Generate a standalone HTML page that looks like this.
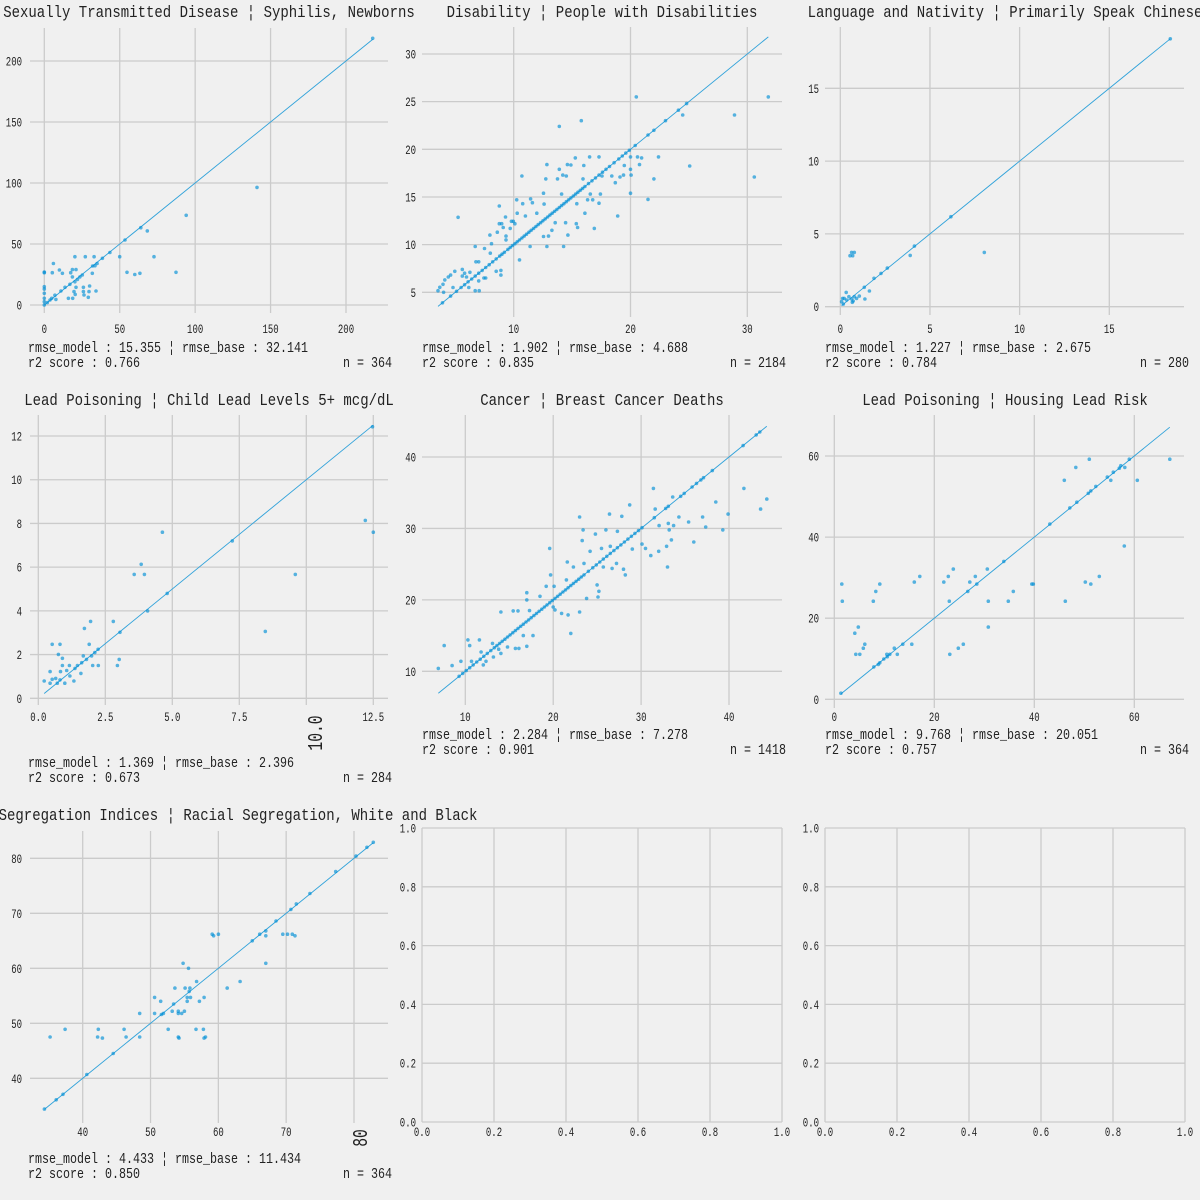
<!DOCTYPE html>
<html><head><meta charset="utf-8"><style>
html,body{margin:0;padding:0;background:#f0f0f0;}
svg{display:block;}
text{font-family:"Liberation Mono","DejaVu Sans Mono",monospace;fill:#222;}
</style></head><body>
<svg id="fig" width="1200" height="1200" viewBox="0 0 1200 1200" xmlns="http://www.w3.org/2000/svg">
<rect width="1200" height="1200" fill="#f0f0f0"/>
</svg>
<script>
// ---------- data ----------
const p1Points = [[0,26.5],[0,15],[0,9.6],[0,5.5],[0,2.7],[0,0],[0,27],[0,13],[6,34],[5.3,26.5],[7,8],[4.9,5.5],[7.7,4.6],[3.8,4.1],[2,2],[10,28.7],[12,26],[11,11.5],[13.7,14.5],[16,5.5],[17,17],[17.5,26.5],[18.6,29],[18.6,23],[18.8,5.5],[19.7,11],[20.3,19],[20.3,39.6],[21,29],[21,14.5],[20.5,8.7],[22,21],[23.6,23],[25.2,24.6],[25.9,14.5],[25.9,11],[26.3,8.2],[27.2,39.6],[30,15.6],[29.6,11],[29.2,6.3],[31.8,26],[32,32],[33,39.6],[33.6,32.2],[34.3,11.5],[35,34],[38.5,38.3],[43.5,43],[50,39.6],[53.5,53.3],[54.8,26.8],[60,25],[63.4,26],[64,63.4],[68.3,60.7],[72.7,39.6],[87.3,26.8],[94.1,73.5],[141,96.4],[217.7,218.6]];
const p2Points = [[5.24,12.87],[3.52,5.17],[3.67,5.52],[3.95,5.84],[4.1,6.3],[4.4,6.6],[4.6,6.8],[4.96,7.2],[4.8,5.5],[4,5],[5.6,6.7],[5.6,7.4],[5.8,7],[5.96,6.6],[6.16,5.5],[6.25,7.1],[6.7,9.8],[6.76,8.2],[7.0,8.2],[6.7,5.17],[7.05,5.17],[7,6.2],[7.5,9.6],[7.45,6.5],[7.6,6.5],[7.96,11],[8.1,10.1],[8.0,9.1],[8.77,14.05],[8.77,12.2],[8.97,12.2],[8.6,11.3],[9.3,12.9],[9.1,11.8],[9.34,10.5],[9.34,10.9],[8.5,7.2],[8.9,7.3],[8.9,6.8],[9.7,11.7],[9.8,12.45],[9.97,12.45],[10.1,12.2],[10.26,14.7],[10.3,13.3],[10.5,8.4],[10.7,17.2],[10.77,14.3],[11,13],[11.4,9.8],[11.45,14.8],[11.6,14.4],[11.98,13.3],[12.55,15.4],[12.6,14.25],[12.75,16.9],[12.84,18.4],[12.84,9.8],[12.55,10.85],[12.98,10.9],[13.27,11.5],[13.55,12.3],[13.75,16.9],[13.9,17.9],[13.9,22.4],[14.1,15.3],[14.2,17.3],[14.27,9.8],[14.44,12.3],[14.5,17.2],[14.6,18.4],[14.64,11],[14.9,18.35],[15.27,19.1],[15.36,12.2],[15.4,14.3],[15.47,11.8],[15.79,23],[15.93,16.9],[16,18.3],[16.1,13.3],[16.33,14.7],[16.5,19.2],[16.56,15.3],[16.76,14.7],[16.9,11.7],[17.3,19.2],[17.3,14.35],[17.42,15.3],[17.56,17.2],[18.4,17.2],[18.7,16.5],[18.9,13],[19.1,17.1],[19.47,18.3],[19.4,17.3],[20,17.9],[20.05,17.3],[20,19.2],[20,15.4],[20.5,25.5],[20.6,19.2],[20.77,18.4],[20.95,19.1],[21.5,14.75],[22,16.9],[22.4,19.2],[24.47,23.6],[25.07,18.25],[28.9,23.6],[30.6,17.1],[31.8,25.5],
[3.9,3.9],[4.6,4.6],[5.1,5.1],[5.5,5.5],[5.8,5.8],[6.1,6.1],[6.4,6.4],[6.7,6.7],[7.0,7.0],[7.3,7.3],[7.6,7.6],[7.9,7.9],[8.2,8.2],[8.5,8.5],[8.8,8.8],[9.0,9.0],[9.2,9.2],[9.5,9.5],[9.7,9.7],[9.9,9.9],[10.1,10.1],[10.3,10.3],[10.5,10.5],[10.7,10.7],[10.9,10.9],[11.1,11.1],[11.3,11.3],[11.5,11.5],[11.7,11.7],[11.9,11.9],[12.1,12.1],[12.3,12.3],[12.5,12.5],[12.7,12.7],[12.9,12.9],[13.1,13.1],[13.3,13.3],[13.5,13.5],[13.7,13.7],[13.9,13.9],[14.1,14.1],[14.3,14.3],[14.5,14.5],[14.7,14.7],[14.9,14.9],[15.1,15.1],[15.3,15.3],[15.5,15.5],[15.7,15.7],[15.9,15.9],[16.1,16.1],[16.4,16.4],[16.7,16.7],[17.0,17.0],[17.3,17.3],[17.6,17.6],[17.9,17.9],[18.2,18.2],[18.6,18.6],[19.0,19.0],[19.3,19.3],[19.6,19.6],[19.9,19.9],[20.4,20.4],[21.5,21.5],[22.0,22.0],[23.0,23.0],[24.1,24.1],[24.8,24.8]];
const p3Points = [[18.4,18.4],[6.17,6.18],[4.13,4.16],[3.9,3.52],[2.62,2.65],[2.27,2.29],[1.88,1.95],[1.34,1.33],[1.37,0.53],[1.62,1.08],[8.03,3.73],[0.54,3.5],[0.63,3.73],[0.78,3.73],[0.69,3.5],[0.33,0.98],[0.07,0.34],[0.17,0.18],[0.22,0.57],[0.35,0.46],[0.48,0.69],[0.63,0.53],[0.67,0.3],[0.78,0.69],[0.91,0.57],[1.06,0.73],[0.13,0.57],[0.72,0.39]];
const p4Points = [[12.47,12.42],[12.2,8.14],[12.5,7.6],[9.59,5.67],[8.47,3.06],[7.24,7.2],[4.63,7.6],[4.81,4.8],[4.08,4.0],[3.84,6.13],[3.58,5.67],[3.96,5.67],[3.05,3.02],[3.02,1.78],[2.95,1.5],[2.8,3.52],[1.95,3.52],[1.72,3.2],[1.9,2.47],[2.23,2.24],[2.11,2.09],[1.99,1.94],[2.03,1.5],[2.24,1.5],[1.68,1.94],[1.8,1.78],[1.62,1.63],[1.59,1.14],[1.46,1.5],[1.37,1.37],[1.33,0.79],[1.16,1.5],[1.18,1.02],[1.06,1.27],[0.99,0.69],[0.9,1.5],[0.9,1.83],[0.81,2.47],[0.75,2.01],[0.83,1.22],[0.81,0.84],[0.71,0.69],[0.65,0.91],[0.52,2.47],[0.52,0.87],[0.44,1.22],[0.44,0.69],[0.22,0.79]];
const p5Points = [[6.93,10.4],[7.6,13.6],[8.5,10.8],[9.5,11.4],[10.3,14.4],[10.5,13.6],[10.7,11.4],[11.6,14.4],[11.8,12.7],[12.05,10.9],[12.35,11.4],[13.1,13.9],[13.2,12],[13.8,13.1],[14.05,18.3],[14.05,12.5],[14.8,13.4],[15.45,18.45],[15.7,13.2],[16,18.45],[16.1,13.2],[16.6,15],[17,21],[17,20],[17,13.5],[17.3,18.5],[17.7,15],[18.5,20.5],[19.2,21.9],[19.6,27.2],[19.7,23.5],[20,19],[20.2,18.6],[20.1,21.9],[20.95,18.1],[21.5,22.8],[21.6,25.3],[21.7,17.9],[22,15.3],[22.3,24.6],[23,31.6],[23,18.3],[23.3,28.3],[23.4,29.8],[23.5,25.1],[23.8,20.2],[24.2,26.8],[24.8,29.2],[25,22.1],[25.2,21.2],[25.1,20.4],[25.5,27.2],[25.7,24.6],[26,29.8],[26.4,32],[26.5,27.5],[26.7,24.4],[27.2,25.1],[27.3,29.6],[27.8,31.7],[28,24.3],[28.2,23.5],[28.7,33.3],[29,27.1],[30.1,27.8],[30.5,27.2],[31.1,26.2],[31.4,35.6],[31.6,32.7],[32.05,30.4],[32,26.8],[32.9,27.5],[33,24.6],[33.1,30.7],[33.2,29.8],[33.45,28.4],[33.6,34.4],[33.7,30.4],[34.3,31.6],[35.4,30.9],[36,28.1],[37,31.6],[37.35,30.2],[38.5,33.7],[39.3,29.8],[39.9,32],[41.7,35.6],[43.6,32.7],[44.3,34.1],
[9.3,9.3],[9.7,9.7],[10.1,10.1],[10.5,10.5],[10.9,10.9],[11.3,11.3],[11.7,11.7],[12.1,12.1],[12.5,12.5],[12.9,12.9],[13.3,13.3],[13.6,13.6],[13.9,13.9],[14.2,14.2],[14.5,14.5],[14.8,14.8],[15.1,15.1],[15.4,15.4],[15.7,15.7],[16.0,16.0],[16.3,16.3],[16.6,16.6],[16.9,16.9],[17.2,17.2],[17.5,17.5],[17.8,17.8],[18.1,18.1],[18.4,18.4],[18.7,18.7],[19.0,19.0],[19.3,19.3],[19.6,19.6],[19.9,19.9],[20.2,20.2],[20.5,20.5],[20.8,20.8],[21.1,21.1],[21.4,21.4],[21.7,21.7],[22.0,22.0],[22.3,22.3],[22.6,22.6],[22.9,22.9],[23.2,23.2],[23.5,23.5],[24.0,24.0],[24.5,24.5],[24.9,24.9],[25.3,25.3],[25.7,25.7],[26.1,26.1],[26.5,26.5],[26.9,26.9],[27.3,27.3],[27.7,27.7],[28.1,28.1],[28.5,28.5],[28.9,28.9],[29.3,29.3],[29.7,29.7],[30.1,30.1],[31.5,31.5],[32.8,32.8],[33.1,33.1],[34.5,34.5],[34.9,34.9],[35.8,35.8],[36.3,36.3],[36.8,36.8],[37.1,37.1],[38.1,38.1],[41.6,41.6],[43.1,43.1],[43.5,43.5]];
const p6Points = [[67.1,59.2],[60.6,54],[59,59.2],[58.1,57.2],[57.3,57.6],[57,57],[55.8,56],[55.3,54],[54.6,54.8],[52.3,52.5],[51.3,51.4],[50.8,50.8],[51,59.2],[48.3,57.2],[46,54],[48.5,48.6],[47.1,47.2],[43.1,43.2],[58,37.8],[53,30.3],[50.2,28.9],[51.3,28.4],[46.2,24.2],[39.8,28.4],[39.5,28.4],[35.8,26.6],[34.8,24.2],[33.9,34],[30.6,32.1],[30.8,24.2],[30.8,17.8],[28.5,28.4],[28.2,30.3],[27.1,28.9],[26.7,26.6],[23.8,32.1],[22.8,30.3],[23,24.2],[23.1,11.1],[21.9,28.9],[24.8,12.6],[25.8,13.6],[17.1,30.3],[16,28.9],[15.5,13.6],[13.7,13.6],[12.6,11.1],[12,12.6],[11.1,11.1],[10.5,11.1],[10.6,10.5],[9.9,9.95],[9.1,9],[8.8,8.6],[7.9,8],[9.1,28.4],[8.3,26.6],[7.8,24.2],[6.1,13.6],[5.8,12.6],[5.1,11.1],[4.3,11.1],[4.8,17.8],[4.1,16.3],[1.5,28.4],[1.6,24.2],[1.33,1.5]];
const p7Points = [[82.85,82.9],[81.9,82],[80.3,80.4],[77.3,77.6],[73.5,73.6],[71.5,71.7],[70.7,70.7],[68.5,68.6],[66.1,66.2],[67,66.8],[67,65.9],[67,60.9],[65,65],[69.5,66.2],[70.2,66.2],[70.9,66.2],[71.3,65.9],[60,66.2],[59.1,66.2],[59.3,65.9],[63.2,57.6],[61.3,56.4],[57.9,54.7],[57.2,54],[56.8,57.6],[55.8,56.4],[55.7,55.8],[55.9,54.7],[55.4,54.7],[55.4,54],[55.1,56.4],[55.6,60],[54.8,60.9],[55,52.2],[54.6,51.8],[54.1,52.2],[54.1,51.8],[53.6,56.4],[53.4,53.5],[53.2,52.2],[51.9,51.8],[51.5,54],[51.6,51.6],[50.6,54.7],[50.6,51.8],[52.6,48.9],[54.1,47.5],[54.2,47.3],[56.7,48.9],[57.8,48.9],[57.9,47.3],[58.1,47.5],[48.4,51.8],[48.4,47.5],[46.4,47.5],[46.1,48.9],[44.5,44.5],[42.9,47.3],[42.2,47.5],[42.3,48.9],[40.6,40.7],[37.4,48.9],[35.2,47.5],[37.1,37.1],[36.1,36.1],[34.35,34.4]];

const p1XTicks=[0,50,100,150,200], p1YTicks=[0,50,100,150,200];
const p2XTicks=[10,20,30], p2YTicks=[5,10,15,20,25,30];
const p3XTicks=[0,5,10,15], p3YTicks=[0,5,10,15];
const p4XTicks=[0,2.5,5,7.5,10,12.5], p4YTicks=[0,2,4,6,8,10,12];
const p5XTicks=[10,20,30,40], p5YTicks=[10,20,30,40];
const p6XTicks=[0,20,40,60], p6YTicks=[0,20,40,60];
const p7XTicks=[40,50,60,70,80], p7YTicks=[40,50,60,70,80];
const unitTicks=[0,0.2,0.4,0.6,0.8,1.0];

const titles=["Sexually Transmitted Disease ¦ Syphilis, Newborns","Disability ¦ People with Disabilities","Language and Nativity ¦ Primarily Speak Chinese","Lead Poisoning ¦ Child Lead Levels 5+ mcg/dL","Cancer ¦ Breast Cancer Deaths","Lead Poisoning ¦ Housing Lead Risk","Segregation Indices ¦ Racial Segregation, White and Black"];
const rmseModel=["15.355","1.902","1.227","1.369","2.284","9.768","4.433"];
const rmseBase=["32.141","4.688","2.675","2.396","7.278","20.051","11.434"];
const r2Scores=["0.766","0.835","0.784","0.673","0.901","0.757","0.850"];
const nCounts=[364,2184,280,284,1418,364,364];

// ---------- layout ----------
const NS="http://www.w3.org/2000/svg";
const svg=document.getElementById('fig');
function mk(tag,attrs,parent){const e=document.createElementNS(NS,tag);for(const k in attrs)e.setAttribute(k,attrs[k]);(parent||svg).appendChild(e);return e;}
function txt(parent,x,y,s,size,cw,anchor){const t=mk('text',{x:x,y:y,'font-size':size,'text-anchor':anchor||'start',textLength:(s.length*cw).toFixed(1),lengthAdjust:'spacingAndGlyphs'},parent);t.textContent=s;return t;}
function lin(v0,p0,v1,p1){return v=>p0+(v-v0)*(p1-p0)/(v1-v0);}
const intF=v=>String(v), oneF=v=>v.toFixed(1);

const panels=[
 {pts:p1Points,xt:p1XTicks,yt:p1YTicks,box:[30,28,388,313],xr:[0,44.3,200,346],yr:[0,305,200,61],xf:intF,yf:intF,title:[209,17],ann:[28,352,392],xtb:333,ytr:22},
 {pts:p2Points,xt:p2XTicks,yt:p2YTicks,box:[422,27,782,317],xr:[10,513.7,30,747.3],yr:[5,292.3,30,54],xf:intF,yf:intF,title:[602,17],ann:[422,352,786],xtb:333,ytr:416},
 {pts:p3Points,xt:p3XTicks,yt:p3YTicks,box:[825,27,1184,315],xr:[0,840.3,15,1109.3],yr:[0,306.7,15,88.3],xf:intF,yf:intF,title:[1005,17],ann:[825,352,1189],xtb:333,ytr:819},
 {pts:p4Points,xt:p4XTicks,yt:p4YTicks,box:[30,415,388,705],xr:[0,38.3,12.5,373.3],yr:[0,698.3,12,436],xf:oneF,yf:intF,title:[209,405],ann:[28,767,392],xtb:721,ytr:22,skipX:[10]},
 {pts:p5Points,xt:p5XTicks,yt:p5YTicks,box:[422,415,782,705],xr:[10,465.3,40,729],yr:[10,671.3,40,457],xf:intF,yf:intF,title:[602,405],ann:[422,739,786],xtb:721,ytr:416},
 {pts:p6Points,xt:p6XTicks,yt:p6YTicks,box:[825,415,1184,708],xr:[0,834.3,60,1134.3],yr:[0,699.3,60,456],xf:intF,yf:intF,title:[1005,405],ann:[825,739,1189],xtb:721,ytr:819},
 {pts:p7Points,xt:p7XTicks,yt:p7YTicks,box:[30,831,388,1123],xr:[40,82.7,80,354],yr:[40,1078.3,80,858.3],xf:intF,yf:intF,title:[238,820],ann:[28,1163,392],xtb:1136,ytr:22,skipX:[80]},
 {pts:null,xt:unitTicks,yt:unitTicks,box:[422,828,782,1122],xr:[0,422,1,782],yr:[0,1122,1,828],xf:oneF,yf:oneF,xtb:1136,ytr:416},
 {pts:null,xt:unitTicks,yt:unitTicks,box:[825,828,1185,1122],xr:[0,825,1,1185],yr:[0,1122,1,828],xf:oneF,yf:oneF,xtb:1136,ytr:819}
];

panels.forEach((p,i)=>{
  const g=mk('g',{});
  
  
  const sx=lin(...p.xr), sy=lin(...p.yr);
  const [L,T,R,B]=p.box;
  const grid=mk('g',{stroke:'#cbcbcb','stroke-width':1.3},g);
  
  
  p.xt.forEach(v=>{mk('line',{x1:sx(v),x2:sx(v),y1:T,y2:B},grid);});
  p.yt.forEach(v=>{mk('line',{x1:L,x2:R,y1:sy(v),y2:sy(v)},grid);});
  const xl=mk('g',{},g);
  
  
  p.xt.forEach(v=>{ if(p.skipX&&p.skipX.includes(v))return; const s=p.xf(v); txt(xl,sx(v),p.xtb,s,13,5.4,'middle');});
  const yl=mk('g',{},g);
  
  
  p.yt.forEach(v=>{const s=p.yf(v); txt(yl,p.ytr,sy(v)+4.5,s,13,5.4,'end');});
  if(!p.pts) return;
  const xs=p.pts.map(d=>d[0]);
  const lo=Math.min(...xs), hi=Math.max(...xs);
  const ln=mk('line',{x1:sx(lo),y1:sy(lo),x2:sx(hi),y2:sy(hi),stroke:'#30a2da','stroke-width':0.9},g);
  
  
  const pg=mk('g',{fill:'#008fd5','fill-opacity':0.65},g);
  
  
  p.pts.forEach(d=>{
    const c=mk('circle',{cx:sx(d[0]).toFixed(1),cy:sy(d[1]).toFixed(1),r:1.8},pg);
    
    
  });
  const t=txt(g,p.title[0],p.title[1],titles[i],17,8.4,'middle');
  
  
  const s1='rmse_model : '+rmseModel[i]+' ¦ rmse_base : '+rmseBase[i];
  const a1=txt(g,p.ann[0],p.ann[1],s1,15,7.0,'start');
  
  
  const s2='r2 score : '+r2Scores[i];
  const a2=txt(g,p.ann[0],p.ann[1]+15,s2,15,7.0,'start');
  
  
  const s3='n = '+nCounts[i];
  const a3=txt(g,p.ann[2],p.ann[1]+15,s3,15,7.0,'end');
  
  
});
// stray rotated tick labels
const r1=txt(svg,0,0,'10.0',21,8.8,'middle');
r1.setAttribute('transform','translate(322,733) rotate(-90)');


const r2=txt(svg,0,0,'80',21,8.8,'middle');
r2.setAttribute('transform','translate(367,1138) rotate(-90)');


</script>
</body></html>
